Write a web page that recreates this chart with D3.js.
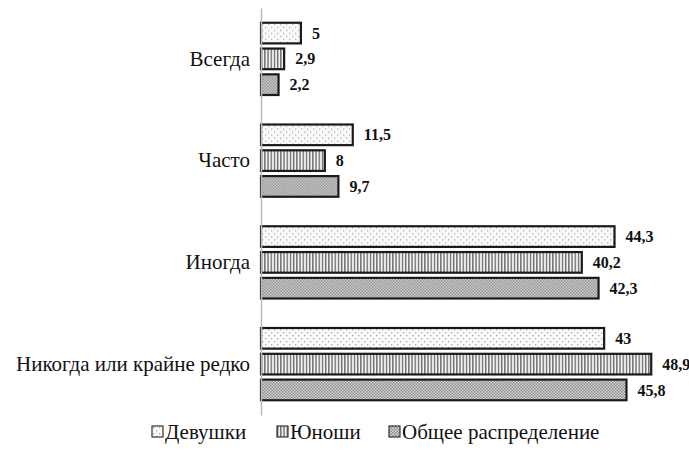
<!DOCTYPE html>
<html>
<head>
<meta charset="utf-8">
<script src="https://cdn.jsdelivr.net/npm/d3@7"></script>
<style>
  body { margin: 0; background: #fff; }
</style>
</head>
<body>
<div id="chart"></div>
<script>
var categories = ["Всегда", "Часто", "Иногда", "Никогда или крайне редко"];
var seriesNames = ["Девушки", "Юноши", "Общее распределение"];
var girls = [5, 11.5, 44.3, 43];
var boys = [2.9, 8, 40.2, 48.9];
var total = [2.2, 9.7, 42.3, 45.8];
var labelText = [
    ["5", "11,5", "44,3", "43"],
    ["2,9", "8", "40,2", "48,9"],
    ["2,2", "9,7", "42,3", "45,8"]
];

var FONT = "'Liberation Serif'";
var W = 689, H = 469;
var margin = {top: 8, right: 20, bottom: 54, left: 261},
    width = W - margin.left - margin.right,
    height = H - margin.top - margin.bottom;

var svg = d3.select("#chart")
    .append("svg")
        .attr("width", W)
        .attr("height", H)
    .append("g")
        .attr("transform", "translate(" + margin.left + "," + margin.top + ")");

// patterns
var defs = svg.append("defs");

var p1 = defs.append("pattern").attr("id", "pat0")
    .attr("patternUnits", "userSpaceOnUse").attr("width", 6).attr("height", 6);
p1.append("rect").attr("width", 6).attr("height", 6).attr("fill", "#fafafa");
p1.append("rect").attr("x", 1).attr("y", 1).attr("width", 1.3).attr("height", 1.3).attr("fill", "#aaa");
p1.append("rect").attr("x", 4).attr("y", 4).attr("width", 1.3).attr("height", 1.3).attr("fill", "#aaa");

var p2 = defs.append("pattern").attr("id", "pat1")
    .attr("patternUnits", "userSpaceOnUse").attr("width", 3.2).attr("height", 4);
p2.append("rect").attr("width", 3.2).attr("height", 4).attr("fill", "#f2f2f2");
p2.append("rect").attr("x", 0).attr("width", 1.3).attr("height", 4).attr("fill", "#666");

var p3 = defs.append("pattern").attr("id", "pat2")
    .attr("patternUnits", "userSpaceOnUse").attr("width", 3).attr("height", 3);
p3.append("rect").attr("width", 3).attr("height", 3).attr("fill", "#d8d8d8");
p3.append("rect").attr("x", 0).attr("y", 0).attr("width", 1.5).attr("height", 1.5).attr("fill", "#8a8a8a");
p3.append("rect").attr("x", 1.5).attr("y", 1.5).attr("width", 1.5).attr("height", 1.5).attr("fill", "#8a8a8a");

var data = categories.map(function(c, i) {
    return {cat: c, vals: [girls[i], boys[i], total[i]], idx: i};
});

var y = d3.scaleBand()
    .domain(categories)
    .range([0, height])
    .paddingInner(0.29)
    .paddingOuter(0.145);

var ySub = d3.scaleBand()
    .domain([0, 1, 2])
    .range([0, y.bandwidth()])
    .paddingInner(0.2);

var x = d3.scaleLinear()
    .domain([0, 50])
    .range([0, 50 * 7.98]);

// bars
var groups = svg.selectAll(".grp")
    .data(data)
    .enter().append("g")
        .attr("transform", function(d) { return "translate(0," + y(d.cat) + ")"; });

groups.selectAll("rect")
    .data(function(d) { return d.vals.map(function(v, k) { return {v: v, k: k, i: d.idx}; }); })
    .enter().append("rect")
        .attr("x", 0)
        .attr("y", function(d) { return ySub(d.k); })
        .attr("width", function(d) { return x(d.v); })
        .attr("height", ySub.bandwidth())
        .attr("fill", function(d) { return "url(#pat" + d.k + ")"; })
        .attr("stroke", "#1a1a1a")
        .attr("stroke-width", 2.2);

groups.selectAll("text")
    .data(function(d) { return d.vals.map(function(v, k) { return {v: v, k: k, i: d.idx}; }); })
    .enter().append("text")
        .attr("x", function(d) { return x(d.v) + 11; })
        .attr("y", function(d) { return ySub(d.k) + ySub.bandwidth() / 2; })
        .attr("dy", "0.35em")
        .style("font-family", FONT)
        .style("font-size", "16px")
        .style("font-weight", "bold")
        .attr("fill", "#111")
        .text(function(d) { return labelText[d.k][d.i]; });

// axis
var yAxis = svg.append("g")
    .call(d3.axisLeft(y).tickSize(0).tickPadding(11));
yAxis.select(".domain").attr("stroke", "#bbb").attr("stroke-width", 1.5);
yAxis.selectAll("text")
    .style("font-family", FONT)
    .style("font-size", "21px")
    .attr("fill", "#111");

// legend
var legend = d3.select("svg").append("g")
    .attr("transform", "translate(0,432)");
var legX = [152, 277, 389];
seriesNames.forEach(function(n, k) {
    var g = legend.append("g").attr("transform", "translate(" + legX[k] + ",0)");
    g.append("rect")
        .attr("x", 0).attr("y", -6).attr("width", 11).attr("height", 11)
        .attr("fill", "url(#pat" + k + ")")
        .attr("stroke", "#333").attr("stroke-width", 1.2);
    g.append("text")
        .attr("x", 13).attr("y", 0).attr("dy", "0.35em")
        .style("font-family", FONT)
        .style("font-size", "21px")
        .attr("fill", "#111")
        .text(n);
});
</script>
</body>
</html>
